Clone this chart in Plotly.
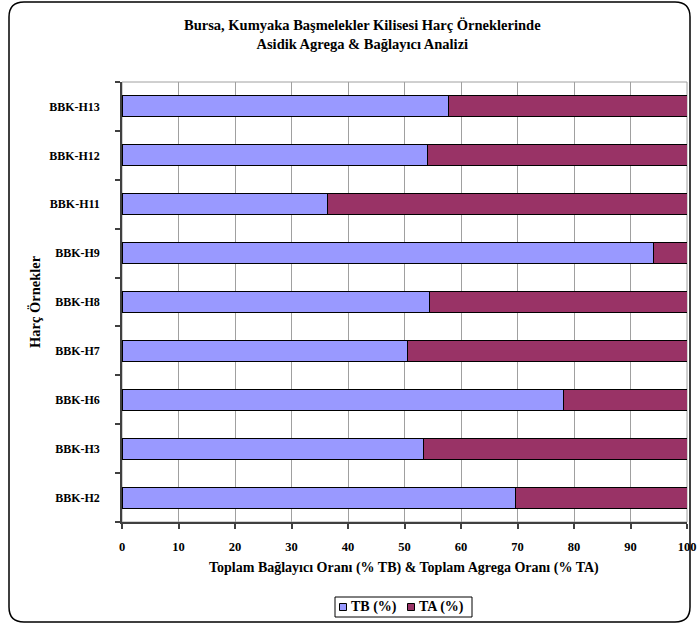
import plotly.graph_objects as go

samples = ["BBK-H2", "BBK-H3", "BBK-H6", "BBK-H7", "BBK-H8", "BBK-H9", "BBK-H11", "BBK-H12", "BBK-H13"]
tb_values = [69.6, 53.4, 78.2, 50.6, 54.4, 94.1, 36.4, 54.0, 57.7]
ta_values = [30.4, 46.6, 21.8, 49.4, 45.6, 5.9, 63.6, 46.0, 42.3]
x_ticks = [0, 10, 20, 30, 40, 50, 60, 70, 80, 90, 100]
series_names = ["TB (%)", "TA (%)"]
series_colors = ["#9999FF", "#993366"]

title_text = "Bursa, Kumyaka Başmelekler Kilisesi Harç Örneklerinde<br>Asidik Agrega & Bağlayıcı Analizi"
x_title = "Toplam Bağlayıcı Oranı (% TB) & Toplam Agrega Oranı (% TA)"
y_title = "Harç Örnekler"

FONT = "Liberation Serif"
W, H = 699, 624
L, R, T, B = 122, 12, 82, 102
PW, PH = W - L - R, H - T - B


def px_x(p):
    return (p - L) / PW


def px_y(p):
    return (H - B - p) / PH


fig = go.Figure()
for vals, name, col in zip([tb_values, ta_values], series_names, series_colors):
    fig.add_trace(go.Bar(
        y=samples, x=vals, orientation="h", name=name,
        marker=dict(color=col, line=dict(color="#000000", width=1)),
    ))

# rounded outer frame
x0, x1, y0, y1 = 9, 690, 2, 622
r = 15
path = (
    f"M {px_x(x0 + r)} {px_y(y0)} L {px_x(x1 - r)} {px_y(y0)} "
    f"Q {px_x(x1)} {px_y(y0)} {px_x(x1)} {px_y(y0 + r)} "
    f"L {px_x(x1)} {px_y(y1 - r)} Q {px_x(x1)} {px_y(y1)} {px_x(x1 - r)} {px_y(y1)} "
    f"L {px_x(x0 + r)} {px_y(y1)} Q {px_x(x0)} {px_y(y1)} {px_x(x0)} {px_y(y1 - r)} "
    f"L {px_x(x0)} {px_y(y0 + r)} Q {px_x(x0)} {px_y(y0)} {px_x(x0 + r)} {px_y(y0)} Z"
)

shapes = [
    dict(type="rect", xref="paper", yref="paper", x0=0, x1=1, y0=0, y1=1,
         line=dict(color="#a0a0a0", width=1), layer="below"),
    dict(type="path", xref="paper", yref="paper", path=path,
         line=dict(color="black", width=1.5)),
    # legend box
    dict(type="rect", xref="paper", yref="paper",
         x0=px_x(335), x1=px_x(472), y0=px_y(617), y1=px_y(597),
         line=dict(color="black", width=1), fillcolor="white"),
]
annotations = [
    dict(text="<b>" + title_text + "</b>", xref="paper", yref="paper",
         x=px_x(362), y=px_y(34.5), xanchor="center", yanchor="middle",
         showarrow=False, font=dict(family=FONT, size=14.5, color="black")),
    dict(text="<b>" + x_title + "</b>", xref="paper", yref="paper",
         x=px_x(403.5), y=px_y(568), xanchor="center", yanchor="middle",
         showarrow=False, font=dict(family=FONT, size=14, color="black")),
    dict(text="<b>" + y_title + "</b>", xref="paper", yref="paper",
         x=px_x(35), y=0.5, xanchor="center", yanchor="middle", textangle=-90,
         showarrow=False, font=dict(family=FONT, size=14.5, color="black")),
]
# legend entries
for sx, tx, name, col in zip([339.5, 407.5], [349, 417], series_names, series_colors):
    shapes.append(dict(type="rect", xref="paper", yref="paper",
                       x0=px_x(sx), x1=px_x(sx + 7), y0=px_y(610.5), y1=px_y(603.5),
                       line=dict(color="black", width=1), fillcolor=col))
    annotations.append(dict(text="<b>" + name + "</b>", xref="paper", yref="paper",
                            x=px_x(tx), y=px_y(607), xanchor="left", yanchor="middle",
                            showarrow=False,
                            font=dict(family=FONT, size=14, color="black")))

fig.update_layout(
    width=W, height=H, autosize=False,
    margin=dict(l=L, r=R, t=T, b=B, pad=0, autoexpand=False),
    barmode="stack", bargap=0.57,
    plot_bgcolor="white", paper_bgcolor="white",
    font=dict(family=FONT, size=12, color="black"),
    showlegend=False,
    shapes=shapes,
    annotations=annotations,
)

fig.update_xaxes(
    range=[0, 100], tickvals=x_ticks, ticktext=[str(v) for v in x_ticks],
    showgrid=True, gridcolor="#a0a0a0", gridwidth=1, zeroline=False,
    showline=True, linecolor="#404040", linewidth=1.5,
    ticks="outside", ticklen=5, tickcolor="#404040", tickwidth=1.5,
    tickfont=dict(family=FONT, size=12.5, color="black", weight="bold"),
    ticklabelstandoff=7, fixedrange=True, automargin=False,
)
fig.update_yaxes(
    type="category", categoryorder="array", categoryarray=samples,
    showgrid=False, zeroline=False,
    showline=True, linecolor="#404040", linewidth=1.5,
    ticks="outside", ticklen=5, tickcolor="#404040", tickwidth=1.5,
    tickson="boundaries",
    tickfont=dict(family=FONT, size=12, color="black", weight="bold"),
    ticklabelstandoff=18, fixedrange=True, automargin=False,
)

fig.write_html(
    "out.html",
    config={"displayModeBar": False},
    post_script="document.body.style.margin='0px'; document.body.style.overflow='hidden';",
)
